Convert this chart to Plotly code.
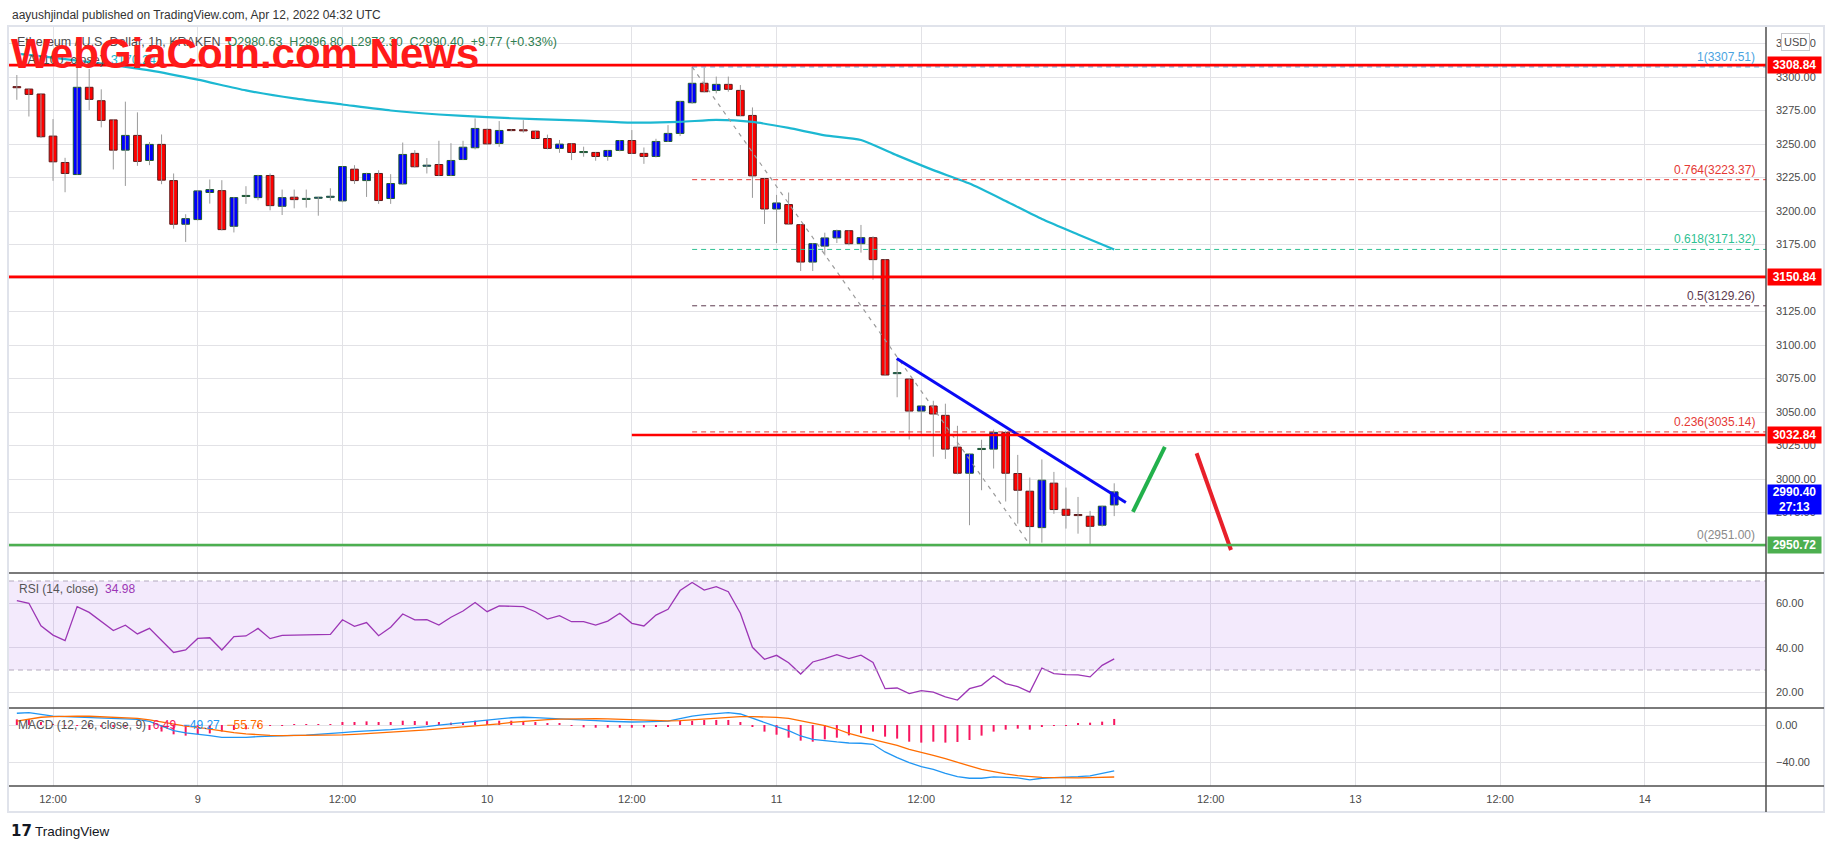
import plotly.graph_objects as go
import pandas as pd

W, H = 1834, 848

# ---------------- data ----------------
start = pd.Timestamp("2022-04-08 09:00")
times = pd.date_range(start, periods=92, freq="h")

opens = [3292.3, 3291.0, 3287.3, 3255.9, 3236.2, 3227.2, 3292.3, 3282.3, 3268.0, 3245.4, 3256.4, 3237.7, 3249.7, 3222.7, 3190.1,
         3193.6, 3213.8, 3215.2, 3188.6, 3210.8, 3210.0, 3226.5, 3203.5, 3210.3, 3208.6,
         3209.5, 3210.2, 3207.5, 3231.2, 3222.7, 3228.0, 3209.3, 3220.2, 3243.0, 3233.4,
         3234.7, 3226.5, 3238.4, 3247.2, 3260.9, 3250.4, 3260.3, 3260.2, 3259.6, 3254.1,
         3246.7, 3250.2, 3243.6, 3243.7, 3240.7, 3245.2, 3252.6, 3243.0, 3240.7, 3251.9,
         3257.9, 3280.8, 3295.3, 3290.0, 3294.5, 3290.0, 3271.3, 3224.2, 3201.5, 3204.8,
         3189.8, 3161.9, 3173.8, 3179.9, 3185.3, 3175.6, 3180.1, 3163.7, 3078.6, 3074.6,
         3050.7, 3054.5, 3047.5, 3023.8, 3004.3, 3022.0, 3022.3, 3034.8, 3004.1, 2990.9,
         2963.7, 2996.9, 2977.4, 2973.2, 2972.2, 2965.5, 2980.63]
closes = [3292.0, 3287.0, 3255.4, 3236.7, 3228.0, 3292.3, 3283.3, 3267.6, 3245.4, 3256.4, 3237.0, 3249.7, 3223.0, 3190.1, 3194.3,
          3215.0, 3216.0, 3186.1, 3210.0, 3211.6, 3226.5, 3204.0, 3210.0, 3208.5, 3209.1,
          3210.0, 3210.8, 3233.2, 3222.7, 3228.0, 3207.8, 3220.5, 3242.2, 3233.0, 3234.0,
          3226.5, 3237.7, 3247.6, 3261.6, 3250.1, 3260.1, 3260.0, 3259.8, 3254.1, 3246.7,
          3249.9, 3243.7, 3243.9, 3240.7, 3245.2, 3252.6, 3243.0, 3240.7, 3251.9, 3257.9,
          3281.8, 3295.3, 3289.0, 3294.5, 3290.8, 3271.1, 3226.2, 3201.5, 3206.0, 3190.3,
          3161.9, 3175.6, 3179.9, 3185.3, 3175.6, 3180.1, 3163.7, 3077.6, 3079.0, 3050.7,
          3054.5, 3048.5, 3022.3, 3004.3, 3018.6, 3022.5, 3034.8, 3004.3, 2991.6, 2964.5,
          2999.1, 2977.2, 2972.9, 2972.7, 2964.7, 2979.7, 2990.40]
highs = [3301.5, 3291.5, 3288.0, 3268.6, 3239.7, 3307.0, 3306.0, 3290.8, 3268.5, 3281.6, 3273.6, 3251.5, 3257.1, 3228.0, 3197.6,
         3215.5, 3223.5, 3223.0, 3210.5, 3218.5, 3227.0, 3228.0, 3216.0, 3216.0, 3216.0,
         3210.5, 3217.0, 3233.5, 3234.2, 3228.5, 3230.4, 3227.5, 3251.1, 3245.4, 3239.5,
         3252.4, 3250.6, 3252.4, 3269.1, 3261.5, 3267.1, 3261.0, 3267.8, 3260.0, 3257.0,
         3253.0, 3250.5, 3248.0, 3244.0, 3245.5, 3253.0, 3260.4, 3247.4, 3253.9, 3264.1,
         3282.2, 3307.5, 3307.0, 3300.3, 3300.3, 3294.0, 3277.3, 3224.5, 3212.0, 3213.8,
         3190.2, 3176.0, 3183.8, 3186.1, 3185.5, 3189.6, 3181.1, 3164.0, 3089.6, 3075.0,
         3055.0, 3058.4, 3056.2, 3039.7, 3019.0, 3029.3, 3036.8, 3036.0, 3018.0, 3001.1,
         3014.6, 3005.3, 2993.6, 2986.6, 2976.2, 2980.0, 2996.80]
lows = [3283.0, 3270.5, 3254.5, 3222.5, 3214.0, 3227.0, 3275.3, 3262.4, 3231.0, 3218.7, 3233.7, 3234.2, 3220.0, 3186.8, 3176.9,
        3193.0, 3205.5, 3185.5, 3184.0, 3205.3, 3208.0, 3200.5, 3197.0, 3202.0, 3202.5,
        3196.5, 3207.8, 3206.5, 3220.2, 3210.5, 3205.3, 3205.3, 3219.5, 3232.5, 3228.0,
        3226.0, 3226.0, 3238.0, 3246.0, 3249.5, 3247.9, 3259.5, 3258.5, 3253.5, 3246.0,
        3243.4, 3238.0, 3240.5, 3237.5, 3237.5, 3244.5, 3242.5, 3235.2, 3240.0, 3251.5,
        3255.9, 3280.0, 3288.5, 3287.8, 3289.0, 3270.8, 3209.8, 3190.3, 3176.1, 3190.0,
        3155.2, 3155.2, 3166.9, 3176.1, 3174.4, 3168.9, 3148.7, 3077.0, 3061.0, 3029.5,
        3033.5, 3016.6, 3015.0, 3003.5, 2965.5, 2991.6, 3007.8, 2983.2, 2966.7, 2951.0,
        2952.5, 2974.0, 2963.0, 2959.2, 2951.2, 2964.5, 2972.30]

ma_times = pd.to_datetime([
    "2022-04-08 09:00", "2022-04-08 12:00", "2022-04-08 16:00", "2022-04-08 20:00", "2022-04-09 00:00",
    "2022-04-09 04:00", "2022-04-09 08:00", "2022-04-09 12:00", "2022-04-09 16:00", "2022-04-09 20:00",
    "2022-04-10 00:00", "2022-04-10 04:00", "2022-04-10 08:00", "2022-04-10 12:00", "2022-04-10 16:00",
    "2022-04-10 19:00", "2022-04-10 22:00", "2022-04-11 01:00", "2022-04-11 04:00", "2022-04-11 07:00",
    "2022-04-11 10:00", "2022-04-11 13:00", "2022-04-11 16:00", "2022-04-11 19:00", "2022-04-11 22:00",
    "2022-04-12 01:00", "2022-04-12 04:00"])
ma_values = [3317.5, 3314.5, 3310.0, 3305.0, 3298.0,
             3290.0, 3284.0, 3279.5, 3275.0, 3272.0,
             3270.0, 3268.5, 3267.5, 3266.0, 3266.5,
             3268.0, 3266.5, 3262.0, 3256.5, 3253.0,
             3241.5, 3230.5, 3220.5, 3207.5, 3194.0,
             3182.5, 3171.3]

rsi = [61.2, 60.0, 49.9, 45.7, 43.2, 58.5, 55.9, 52.0, 47.7, 50.1, 46.2, 48.7, 43.5, 37.9, 39.0,
       44.2, 44.5, 39.0, 45.0, 45.3, 48.7, 44.1, 45.6, 45.6, 45.7,
       45.9, 46.0, 52.6, 49.6, 51.3, 45.4, 49.2, 55.2, 52.5, 52.6,
       50.2, 53.7, 56.5, 60.3, 56.2, 58.8, 58.6, 58.5, 56.2, 52.9,
       54.4, 51.7, 51.7, 50.2, 52.0, 55.5, 51.0, 49.8, 54.7, 57.3,
       65.7, 69.3, 65.9, 67.5, 65.2, 55.5, 40.2, 34.8, 36.6, 33.3,
       28.2, 33.6, 35.1, 36.9, 35.1, 36.7, 33.4, 21.6, 21.9, 19.4,
       20.7, 20.1, 17.9, 16.5, 21.6, 23.1, 27.4, 23.9, 22.5, 20.1,
       30.9, 28.4, 27.9, 27.8, 26.9, 32.1, 34.98]

macd_line = [12.6, 13.2, 11.5, 9.6, 9.0, 8.6, 8.2, 7.6, 7.1, 6.6, 6.0, 3.8, -1.0, -6.1, -8.5,
             -9.6, -11.5, -13.2, -13.3, -13.2, -12.5, -11.8, -11.5, -11.2, -10.8,
             -10.2, -9.6, -8.2, -7.2, -6.6, -6.1, -5.0, -3.8, -3.0, -1.8,
             -0.2, 1.3, 2.8, 4.3, 5.8, 6.6, 7.8, 8.3, 7.9, 7.1,
             6.5, 5.9, 5.3, 4.6, 4.0, 3.5, 3.2, 3.3, 3.6, 4.2,
             6.8, 9.6, 11.1, 12.5, 13.2, 11.8, 7.1, 2.5, -1.8, -6.1,
             -11.8, -15.4, -17.1, -18.2, -19.3, -19.6, -20.7, -28.9, -35.0, -40.4,
             -44.6, -47.5, -51.8, -55.4, -57.1, -57.1, -55.7, -56.1, -56.8, -58.9,
             -57.1, -56.4, -56.1, -55.4, -54.6, -51.8, -49.27]
signal_line = [4.2, 6.5, 8.3, 9.0, 9.5, 9.6, 9.4, 8.9, 8.5, 7.9, 7.0, 5.5, 3.0, 0.5, -1.2,
               -2.5, -4.5, -6.5, -8.2, -9.5, -10.6, -11.2, -11.4, -11.4, -11.3,
               -11.1, -10.9, -10.6, -10.0, -9.3, -8.6, -7.9, -7.2, -6.3, -5.3,
               -4.2, -3.2, -2.1, -0.8, 0.3, 1.3, 2.8, 4.0, 5.0, 5.8,
               6.3, 6.6, 6.8, 6.8, 6.5, 6.0, 5.5, 5.0, 4.7, 4.5,
               4.6, 5.4, 6.1, 7.1, 8.2, 8.9, 8.9, 8.9, 8.2, 7.1,
               4.6, 1.8, -0.7, -4.3, -8.9, -12.5, -15.4, -18.2, -21.8, -26.1,
               -28.9, -32.5, -36.1, -39.6, -43.9, -47.5, -50.4, -52.5, -54.3, -55.4,
               -56.1, -56.4, -56.8, -56.8, -56.4, -56.1, -55.76]
macd_hist = [6.0, 6.5, 3.2, 0.6, -0.5, -1.0, -1.2, -1.3, -1.4, -1.3, -1.0, -5.4, -7.0, -10.0, -11.4,
             -10.0, -9.0, -7.0, -5.4, -4.6, -1.2, -0.6, -0.3, 0.2, 0.4,
             0.6, 1.0, 3.2, 3.2, 3.9, 3.2, 3.2, 4.6, 4.3, 3.9,
             3.2, 2.5, 3.2, 4.6, 5.4, 4.6, 4.6, 3.9, 3.2, 2.1,
             1.1, -0.7, -2.5, -2.9, -2.9, -2.9, -2.9, -2.5, -1.8, -1.8,
             4.6, 4.6, 5.4, 5.4, 5.4, 3.2, -1.8, -7.1, -10.4, -13.6,
             -16.8, -17.9, -15.4, -13.6, -11.1, -8.9, -7.1, -12.5, -14.6, -17.9,
             -18.9, -17.9, -18.9, -18.2, -16.1, -11.4, -7.1, -5.0, -3.9, -5.0,
             -1.8, -0.7, -0.5, 1.4, 2.5, 3.6, 6.49]

tick_times = pd.to_datetime(["2022-04-08 12:00", "2022-04-09 00:00", "2022-04-09 12:00", "2022-04-10 00:00",
                             "2022-04-10 12:00", "2022-04-11 00:00", "2022-04-11 12:00", "2022-04-12 00:00",
                             "2022-04-12 12:00", "2022-04-13 00:00", "2022-04-13 12:00", "2022-04-14 00:00"])
tick_labels = ["12:00", "9", "12:00", "10", "12:00", "11", "12:00", "12", "12:00", "13", "12:00", "14"]

price_ticks = [2950, 2975, 3000, 3025, 3050, 3075, 3100, 3125, 3150, 3175, 3200, 3225, 3250, 3275, 3300, 3325]
rsi_ticks = [20, 40, 60]
macd_ticks = [-40, 0]
macd_tick_labels = ["\u221240.00", "0.00"]

resistance_levels = [3308.84, 3150.84, 3032.84]
resistance_starts = ["2022-04-08 08:21", "2022-04-08 08:21", "2022-04-10 12:00"]
support_level = 2950.72

fib_names = ["1", "0.764", "0.618", "0.5", "0.236", "0"]
fib_prices = [3307.51, 3223.37, 3171.32, 3129.26, 3035.14, 2951.00]
fib_colors = ["#4aa3df", "#e53935", "#2fc193", "#5d3a4f", "#e53935", "#8a8a8a"]
fib_start = "2022-04-10 17:00"
fib_diag_times = ["2022-04-10 17:00", "2022-04-11 21:00"]
fib_diag_prices = [3307.51, 2951.00]

trend_times = ["2022-04-11 09:58", "2022-04-12 04:58"]
trend_prices = [3089.9, 2982.5]
up_arrow_times = ["2022-04-12 05:33", "2022-04-12 08:12"]
up_arrow_prices = [2975.4, 3023.9]
down_arrow_times = ["2022-04-12 10:50", "2022-04-12 13:41"]
down_arrow_prices = [3019.2, 2947.0]

last_price = 2990.40
countdown = "27:13"

# ---------------- geometry ----------------
x_range = [pd.Timestamp("2022-04-08 08:21"), pd.Timestamp("2022-04-14 10:03")]
def PX(x): return x / W
def PY(y): return 1 - y / H

XD = [PX(9), PX(1766)]
GRID = "#e2e2e6"
AX_FONT = dict(family="Liberation Sans, Arial, sans-serif", size=11, color="#4a4a4a")

fig = go.Figure()

# wicks
wx, wy = [], []
for t, h, l in zip(times, highs, lows):
    wx += [t, t, None]
    wy += [l, h, None]
fig.add_trace(go.Scatter(x=wx, y=wy, mode="lines", line=dict(color="#9a9a9a", width=1), hoverinfo="skip"))

# bodies
bases = [min(o, c) for o, c in zip(opens, closes)]
heights = [max(abs(c - o), 0.8) for o, c in zip(opens, closes)]
up = [c >= o for o, c in zip(opens, closes)]
fig.add_trace(go.Bar(x=times, y=heights, base=bases, width=2300000,
                     marker=dict(color=["#0000ff" if u else "#ff0000" for u in up],
                                 line=dict(color=["#1e5a30" if u else "#5e1a1a" for u in up], width=1))))

# MA 100
fig.add_trace(go.Scatter(x=ma_times, y=ma_values, mode="lines", line=dict(color="#1cb8d2", width=2.2, shape="spline", smoothing=0.6)))

# fib diagonal
fig.add_trace(go.Scatter(x=pd.to_datetime(fib_diag_times), y=fib_diag_prices, mode="lines",
                         line=dict(color="#9a9a9a", width=1.2, dash="4px,5px")))
# trend line and arrows
fig.add_trace(go.Scatter(x=pd.to_datetime(trend_times), y=trend_prices, mode="lines", line=dict(color="#0a0af5", width=3)))
fig.add_trace(go.Scatter(x=pd.to_datetime(up_arrow_times), y=up_arrow_prices, mode="lines", line=dict(color="#22b14c", width=4)))
fig.add_trace(go.Scatter(x=pd.to_datetime(down_arrow_times), y=down_arrow_prices, mode="lines", line=dict(color="#e8202a", width=4)))

# RSI
fig.add_trace(go.Scatter(x=times, y=rsi, mode="lines", line=dict(color="#9c36b5", width=1.3), xaxis="x2", yaxis="y2"))

# MACD
fig.add_trace(go.Bar(x=times, y=macd_hist, width=600000, marker=dict(color="#f7165f", line=dict(width=0)), xaxis="x3", yaxis="y3"))
fig.add_trace(go.Scatter(x=times, y=macd_line, mode="lines", line=dict(color="#2196f3", width=1.3), xaxis="x3", yaxis="y3"))
fig.add_trace(go.Scatter(x=times, y=signal_line, mode="lines", line=dict(color="#ff6d00", width=1.3), xaxis="x3", yaxis="y3"))

shapes = []
# RSI band
shapes.append(dict(type="rect", xref="x2", yref="y2", x0=x_range[0], x1=x_range[1], y0=30, y1=70,
                   fillcolor="rgba(160,80,230,0.12)", line=dict(width=0), layer="between"))
for lv in (30, 70):
    shapes.append(dict(type="line", xref="x2", yref="y2", x0=x_range[0], x1=x_range[1], y0=lv, y1=lv,
                       line=dict(color="#b3a9bd", width=1, dash="5px,4px")))
# fib levels
for p, c in zip(fib_prices, fib_colors):
    shapes.append(dict(type="line", xref="x", yref="y", x0=fib_start, x1=x_range[1], y0=p, y1=p,
                       line=dict(color=c, width=1, dash="5px,4px")))
# resistance / support
for p, s in zip(resistance_levels, resistance_starts):
    shapes.append(dict(type="line", xref="x", yref="y", x0=s, x1=x_range[1], y0=p, y1=p,
                       line=dict(color="#ff0000", width=2.6)))
shapes.append(dict(type="line", xref="x", yref="y", x0=x_range[0], x1=x_range[1], y0=support_level, y1=support_level,
                   line=dict(color="#4caf50", width=2.4)))
# frame
shapes.append(dict(type="rect", xref="paper", yref="paper", x0=PX(8), x1=PX(1824), y0=PY(812), y1=PY(26),
                   line=dict(color="#e0e3eb", width=2)))
for yy in (573, 708, 786):
    shapes.append(dict(type="line", xref="paper", yref="paper", x0=PX(9), x1=PX(1824), y0=PY(yy), y1=PY(yy),
                       line=dict(color="#4e4e4e", width=1.5)))
shapes.append(dict(type="line", xref="paper", yref="paper", x0=PX(1766), x1=PX(1766), y0=PY(812), y1=PY(27),
                   line=dict(color="#4e4e4e", width=1.5)))

ann = []
# watermark + header
ann.append(dict(text="aayushjindal published on TradingView.com, Apr 12, 2022 04:32 UTC", xref="paper", yref="paper",
                x=PX(10), y=PY(15), xanchor="left", yanchor="middle", showarrow=False,
                font=dict(family="Liberation Sans, Arial, sans-serif", size=12, color="#333333")))
ann.append(dict(text="Ethereum / U.S. Dollar, 1h, KRAKEN  <span style='color:#2e7d4f'>O2980.63  H2996.80  L2972.30  C2990.40  +9.77 (+0.33%)</span>",
                xref="paper", yref="paper", x=PX(15), y=PY(42), xanchor="left", yanchor="middle", showarrow=False,
                font=dict(family="Liberation Sans, Arial, sans-serif", size=12.5, color="#4a4a4a")))
ann.append(dict(text="MA (100, close)  <span style='color:#1cb8d2'>3170.24</span>",
                xref="paper", yref="paper", x=PX(15), y=PY(60), xanchor="left", yanchor="middle", showarrow=False,
                font=dict(family="Liberation Sans, Arial, sans-serif", size=12.5, color="#4a4a4a")))
ann.append(dict(text="<b>WebGiaCoin.com News</b>", xref="paper", yref="paper", x=PX(9), y=PY(53),
                xanchor="left", yanchor="middle", showarrow=False,
                font=dict(family="Liberation Sans, Arial, sans-serif", size=42, color="#ff1a1a")))
# fib labels
for n, p, c in zip(fib_names, fib_prices, fib_colors):
    ann.append(dict(text=f"{n}({p:.2f})", xref="paper", yref="y", x=PX(1757), y=p, xanchor="right", yanchor="bottom",
                    yshift=1, showarrow=False, font=dict(family="Liberation Sans, Arial, sans-serif", size=12, color=c)))
# axis price boxes
def box(price, text, color, h=14, yshift=0, yanchor="middle"):
    return dict(text=text, xref="paper", yref="y", x=PX(1767), y=price, xanchor="left", yanchor=yanchor, yshift=yshift,
                showarrow=False, bgcolor=color, width=51, height=h, borderpad=1, align="center",
                font=dict(family="Liberation Sans, Arial, sans-serif", size=12, color="white", weight="bold"))
for p in resistance_levels:
    ann.append(box(p, f"{p:.2f}", "#ff0000"))
ann.append(box(support_level, f"{support_level:.2f}", "#4caf50"))
ann.append(box(last_price, f"{last_price:.2f}<br>{countdown}", "#0000ff", h=27, yshift=8, yanchor="top"))
ann.append(dict(text="USD", xref="paper", yref="paper", x=PX(1795), y=PY(42), xanchor="center", yanchor="middle",
                showarrow=False, bgcolor="white", bordercolor="#c8c8cc", borderwidth=1, borderpad=2,
                font=dict(family="Liberation Sans, Arial, sans-serif", size=11, color="#4a4a4a")))
# pane legends
ann.append(dict(text="RSI (14, close)  <span style='color:#9c36b5'>34.98</span>", xref="paper", yref="paper",
                x=PX(17), y=PY(589), xanchor="left", yanchor="middle", showarrow=False,
                font=dict(family="Liberation Sans, Arial, sans-serif", size=12, color="#555555")))
ann.append(dict(text="MACD (12, 26, close, 9)  <span style='color:#f7165f'>6.49</span>  <span style='color:#2196f3'>\u221249.27</span>  <span style='color:#ff6d00'>\u221255.76</span>",
                xref="paper", yref="paper", x=PX(16), y=PY(725), xanchor="left", yanchor="middle", showarrow=False,
                font=dict(family="Liberation Sans, Arial, sans-serif", size=12, color="#555555")))
# TradingView footer
ann.append(dict(text="<b>17</b>", xref="paper", yref="paper", x=PX(9), y=PY(831), xanchor="left", yanchor="middle",
                showarrow=False, font=dict(family="DejaVu Sans, sans-serif", size=15, color="#131722")))
ann.append(dict(text="TradingView", xref="paper", yref="paper", x=PX(33), y=PY(831), xanchor="left", yanchor="middle",
                showarrow=False, font=dict(family="Liberation Sans, Arial, sans-serif", size=13.5, color="#131722")))

xcommon = dict(type="date", range=x_range, domain=XD, tickvals=tick_times, ticktext=tick_labels,
               showgrid=True, gridcolor=GRID, gridwidth=1, zeroline=False, showline=False, ticks="",
               tickfont=AX_FONT)
ycommon = dict(side="right", showgrid=True, gridcolor=GRID, gridwidth=1, zeroline=False, showline=False,
               ticks="", ticklabelstandoff=9, tickfont=AX_FONT, automargin=False)

fig.update_layout(
    width=W, height=H, margin=dict(l=0, r=0, t=0, b=0, autoexpand=False),
    paper_bgcolor="white", plot_bgcolor="white", showlegend=False, barmode="overlay",
    xaxis=dict(xcommon, anchor="y", showticklabels=False),
    xaxis2=dict(xcommon, anchor="y2", showticklabels=False),
    xaxis3=dict(xcommon, anchor="y3", showticklabels=True, ticklabelstandoff=5),
    yaxis=dict(ycommon, anchor="x", domain=[PY(573), PY(27)], range=[2929.85, 3337.31],
               tickvals=price_ticks, ticktext=[f"{v:.2f}" for v in price_ticks]),
    yaxis2=dict(ycommon, anchor="x2", domain=[PY(708), PY(573)], range=[12.92, 73.6],
                tickvals=rsi_ticks, ticktext=[f"{v:.2f}" for v in rsi_ticks]),
    yaxis3=dict(ycommon, anchor="x3", domain=[PY(786), PY(708)], range=[-65.42, 18.23],
                tickvals=macd_ticks, ticktext=macd_tick_labels),
    shapes=shapes, annotations=ann,
)

fig.write_html("out.html")
